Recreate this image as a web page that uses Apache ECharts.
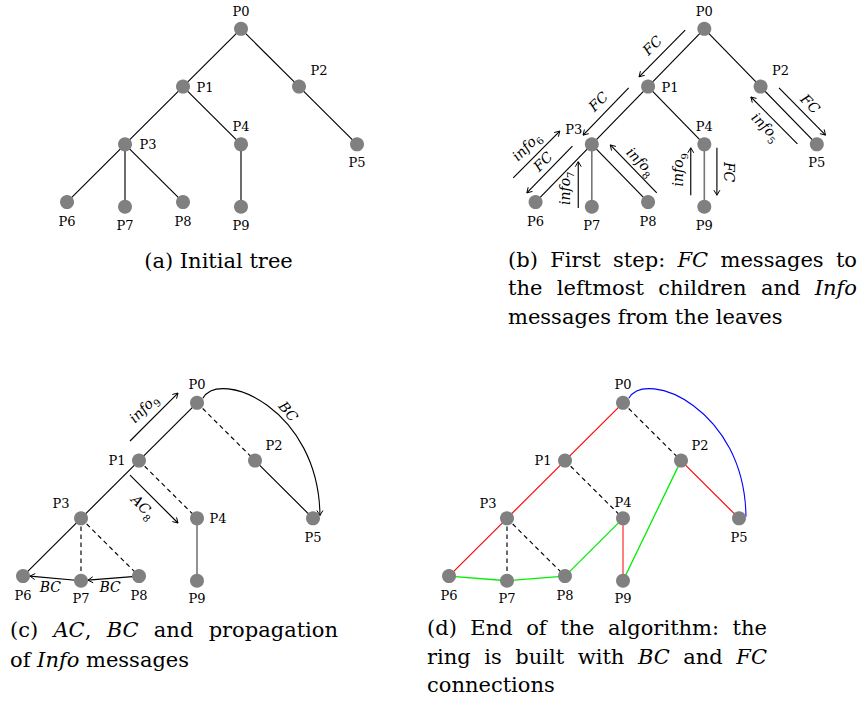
<!DOCTYPE html>
<html><head><meta charset="utf-8">
<script src="https://cdn.jsdelivr.net/npm/echarts@6/dist/echarts.min.js"></script>
<style>html,body{margin:0;padding:0;background:#fff}#c{width:859px;height:704px}</style>
</head><body><div id="c"></div>
<script>
// ---------- data ----------
const nodeNames = ['P0','P1','P2','P3','P4','P5','P6','P7','P8','P9'];
const nodeX = [2, 1, 3, 0, 2, 4, -1, 0, 1, 2];
const nodeY = [0, 1, 1, 2, 2, 2, 3, 3.08, 3, 3.08];

const edgesA = [[0,1],[0,2],[1,3],[1,4],[2,5],[3,6],[3,7],[3,8],[4,9]];
const edgesB = [[0,1],[0,2],[1,3],[1,4],[2,5],[3,6],[3,8]];
const edgesBGrey = [[3,7],[4,9]];
const edgesCSolid = [[0,1],[2,5],[1,3],[3,6]];
const edgesCDashed = [[0,2],[1,4],[3,7],[3,8]];
const edgesCGrey = [[4,9]];
const edgesDRed = [[0,1],[1,3],[3,6],[2,5]];
const edgesDPink = [[4,9]];
const edgesDDashed = [[0,2],[1,4],[3,7],[3,8]];
const edgesDGreen = [[6,7],[7,8],[8,4],[9,2]];

const labelOffA = [[0,-17],[22,1],[20,-16],[23,0],[0,-18],[0,18],[0,19],[0,19],[0,19],[0,19]];
const labelOffB = [[0,-17],[22,1],[20,-16],[-18,-15],[0,-18],[0,18],[0,19],[0,19],[0,19],[0,19]];
const labelOffC = [[0,-18],[-22,0],[19,-15],[-20,-15],[21,0],[0,19],[0,19],[0,18],[0,19],[0,18]];
const labelOffD = [[0,-18],[-22,0],[19,-15],[-19,-15],[0,-16],[0,19],[0,19],[0,18],[0,19],[0,18]];

// message arrows (tree units): [x1, y1, x2, y2], head at (x2, y2)
const arrowsB = [[1.66,0.02,0.84,0.83],[0.655,1.02,-0.155,1.84],[-1.397,2.58,-0.569,1.77],
  [-0.345,2.03,-1.155,2.84],[-0.241,3.10,-0.241,2.30],[1.155,2.84,0.328,2.01],
  [1.759,2.88,1.759,2.06],[2.224,2.06,2.224,2.88],[3.328,1.02,4.155,1.84],[3.655,1.99,2.828,1.18]];
// message names and their subscripts
const arrowTextB = ['FC','FC','info','FC','info','info','info','FC','FC','info'];
const arrowSubB  = ['',  '',  '6',   '',  '7',   '8',   '9',   '',  '',  '5'];
const arrowTextXB = [1.10, 0.14, -1.14, -0.845, -0.45, 0.845, 1.57, 2.41, 3.86, 3.07];
const arrowTextYB = [0.31, 1.28, 2.06, 2.32, 2.76, 2.32, 2.44, 2.48, 1.32, 1.72];
const arrowTextRotB = [45, 45, 45, 45, 90, -45, 90, -90, -45, -45];

const arrowsC = [[0.845,0.66,1.672,-0.17],[0.845,1.25,1.672,2.08],[0,3.08,-0.88,3.0],[1,3,0.12,3.07]];
const arrowTextC = ['info','AC','BC','BC','BC'];
const arrowSubC  = ['9',   '8', '',  '',  ''];
const arrowTextXC = [1.10, 1.05, -0.53, 0.5, 3.55];
const arrowTextYC = [0.12, 1.82, 3.22, 3.22, 0.17];
const arrowTextRotC = [45, -45, 0, 0, -50];

// bend P0 -> P5: [x1,y1, cx1,cy1, cx2,cy2, x2,y2]
const bendC = [[2.1,-0.08, 2.4,-0.6, 4.1,0.1, 4.12,1.95]];
const bendD = [[2.1,-0.08, 2.4,-0.6, 4.1,0.1, 4.12,1.97]];

const captionA = [{y:261, center:218.5, text:'(a) Initial tree'}];
const captionB = [
  {y:260, left:508, right:857, text:'(b) First step: *FC* messages to'},
  {y:288, left:508, right:857, text:'the leftmost children and *Info*'},
  {y:317, left:508, text:'messages from the leaves'}];
const captionC = [
  {y:630, left:10, right:338, text:'(c) *AC*, *BC* and propagation'},
  {y:660, left:10, text:'of *Info* messages'}];
const captionD = [
  {y:628, left:427, right:767, text:'(d) End of the algorithm: the'},
  {y:657, left:427, right:767, text:'ring is built with *BC* and *FC*'},
  {y:685, left:427, text:'connections'}];

// ---------- helpers ----------
const SERIF = '"DejaVu Serif", serif';
function pairs(list){ return list.map(([i,j]) => [nodeX[i],nodeY[i],nodeX[j],nodeY[j]]); }
function chevron(tip, dir, color){
  const len = Math.hypot(dir[0],dir[1]) || 1; const u=[dir[0]/len,dir[1]/len]; const n=[-u[1],u[0]];
  const L=5, W=3;
  return {type:'polyline', shape:{points:[[tip[0]-L*u[0]+W*n[0], tip[1]-L*u[1]+W*n[1]], tip,
    [tip[0]-L*u[0]-W*n[0], tip[1]-L*u[1]-W*n[1]]]}, style:{stroke:color, lineWidth:1, fill:null}};
}
function segSeries(g, data, stroke, width, dash, arrow){
  return {type:'custom', coordinateSystem:'cartesian2d', xAxisIndex:g, yAxisIndex:g, silent:true, z:2,
    data, encode:{x:[0,2], y:[1,3]},
    renderItem(params, api){
      const a = api.coord([api.value(0), api.value(1)]);
      const b = api.coord([api.value(2), api.value(3)]);
      const kids = [{type:'line', shape:{x1:a[0],y1:a[1],x2:b[0],y2:b[1]},
        style:{stroke, lineWidth:width, lineDash:dash||null, fill:null}}];
      if (arrow) kids.push(chevron(b,[b[0]-a[0],b[1]-a[1]],stroke));
      return {type:'group', children:kids};
    }};
}
function bendSeries(g, data, stroke, arrow){
  return {type:'custom', coordinateSystem:'cartesian2d', xAxisIndex:g, yAxisIndex:g, silent:true, z:2,
    data, encode:{x:[0,2,4,6], y:[1,3,5,7]},
    renderItem(params, api){
      const p = [0,2,4,6].map(k => api.coord([api.value(k), api.value(k+1)]));
      const kids = [{type:'bezierCurve', shape:{x1:p[0][0],y1:p[0][1],cpx1:p[1][0],cpy1:p[1][1],
        cpx2:p[2][0],cpy2:p[2][1],x2:p[3][0],y2:p[3][1]}, style:{stroke, lineWidth:1.1, fill:null}}];
      if (arrow) kids.push(chevron(p[3],[p[3][0]-p[2][0],p[3][1]-p[2][1]],stroke));
      return {type:'group', children:kids};
    }};
}
function nodeSeries(g, offs){
  return {type:'scatter', xAxisIndex:g, yAxisIndex:g, symbolSize:14, z:10, silent:true,
    itemStyle:{color:'#808080', opacity:1},
    label:{show:true, position:'inside', formatter:'{b}', color:'#000', fontFamily:SERIF, fontSize:13},
    data: nodeNames.map((nm,i) => ({name:nm, value:[nodeX[i],nodeY[i]], label:{offset:offs[i]}}))};
}
function textSeries(g, texts, subs, xs, ys, rot){
  return {type:'custom', coordinateSystem:'cartesian2d', xAxisIndex:g, yAxisIndex:g, silent:true, z:11,
    data: texts.map((t,i) => [xs[i], ys[i], rot[i]]),
    renderItem(params, api){
      const p = api.coord([api.value(0), api.value(1)]);
      const i = params.dataIndex;
      const txt = '{m|' + texts[i] + '}' + (subs[i] ? '{s|' + subs[i] + '}' : '');
      return {type:'text', x:p[0], y:p[1], rotation: api.value(2)*Math.PI/180,
        style:{text: txt, fill:'#000', align:'center', verticalAlign:'middle',
          textAlign:'center', textVerticalAlign:'middle',
          rich:{ m:{font:'italic 14px ' + SERIF, fill:'#000', verticalAlign:'top', lineHeight:18},
                 s:{font:'10px ' + SERIF, fill:'#000', verticalAlign:'bottom', lineHeight:18} }}};
    }};
}

// caption layout (justified lines, like the typeset figure)
const CAP_SIZE = 21;
const mctx = document.createElement('canvas').getContext('2d');
function fontOf(it){ return (it?'italic ':'') + CAP_SIZE + 'px ' + SERIF; }
function measure(t,it){ mctx.font = fontOf(it); return mctx.measureText(t).width; }
function parseWord(w){
  const segs=[]; let it=false; let cur='';
  for (const ch of w){ if (ch==='*'){ if(cur) segs.push([cur,it]); cur=''; it=!it; } else cur+=ch; }
  if (cur) segs.push([cur,it]);
  return segs;
}
function captionGraphics(lines){
  const out=[];
  lines.forEach(ln => {
    const words = ln.text.split(' ').map(parseWord);
    const widths = words.map(ws => ws.reduce((s,[t,it]) => s+measure(t,it),0));
    const total = widths.reduce((a,b)=>a+b,0);
    let gap = measure(' ',false), x;
    if (ln.right !== undefined && words.length>1){ gap = (ln.right-ln.left-total)/(words.length-1); x=ln.left; }
    else if (ln.center !== undefined){ x = ln.center - (total+gap*(words.length-1))/2; }
    else x = ln.left;
    words.forEach((ws,wi) => {
      let xx = x;
      ws.forEach(([t,it]) => {
        out.push({type:'text', x:xx, y:ln.y, silent:true,
          style:{text:t, font:fontOf(it), fill:'#000', align:'left', verticalAlign:'middle',
                 textAlign:'left', textVerticalAlign:'middle'}});
        xx += measure(t,it);
      });
      x += widths[wi] + gap;
    });
  });
  return out;
}

// ---------- chart ----------
const grids = [{left:52.5, top:0}, {left:521.5, top:0}, {left:8.5, top:374}, {left:434.5, top:374}]
  .map(g => Object.assign({width:348, height:231, containLabel:false}, g));
const chart = echarts.init(document.getElementById('c'), null, {renderer:'svg', width:859, height:704});
const BLACK='#000', GREY='#767676', LW=1.15;
chart.setOption({
  animation:false,
  backgroundColor:'#fff',
  grid: grids,
  xAxis: grids.map((g,i) => ({type:'value', gridIndex:i, min:-1.25, max:4.75, show:false})),
  yAxis: grids.map((g,i) => ({type:'value', gridIndex:i, min:-0.5, max:3.5, inverse:true, show:false})),
  graphic: [].concat(captionGraphics(captionA), captionGraphics(captionB), captionGraphics(captionC), captionGraphics(captionD)),
  series: [
    // (a)
    segSeries(0, pairs(edgesA), BLACK, LW),
    nodeSeries(0, labelOffA),
    // (b)
    segSeries(1, pairs(edgesB), BLACK, LW),
    segSeries(1, pairs(edgesBGrey), GREY, 1.6),
    segSeries(1, arrowsB, BLACK, LW, null, true),
    nodeSeries(1, labelOffB),
    textSeries(1, arrowTextB, arrowSubB, arrowTextXB, arrowTextYB, arrowTextRotB),
    // (c)
    segSeries(2, pairs(edgesCSolid), BLACK, LW),
    segSeries(2, pairs(edgesCDashed), BLACK, LW, [4.5,3.5]),
    segSeries(2, pairs(edgesCGrey), GREY, 1.6),
    segSeries(2, arrowsC, BLACK, LW, null, true),
    bendSeries(2, bendC, BLACK, true),
    nodeSeries(2, labelOffC),
    textSeries(2, arrowTextC, arrowSubC, arrowTextXC, arrowTextYC, arrowTextRotC),
    // (d)
    segSeries(3, pairs(edgesDRed), '#ff0000', LW),
    segSeries(3, pairs(edgesDPink), '#ff7f7f', 2),
    segSeries(3, pairs(edgesDDashed), BLACK, LW, [4.5,3.5]),
    segSeries(3, pairs(edgesDGreen), '#00ee00', 1.3),
    bendSeries(3, bendD, '#0000ff', false),
    nodeSeries(3, labelOffD)
  ]
});
</script></body></html>
